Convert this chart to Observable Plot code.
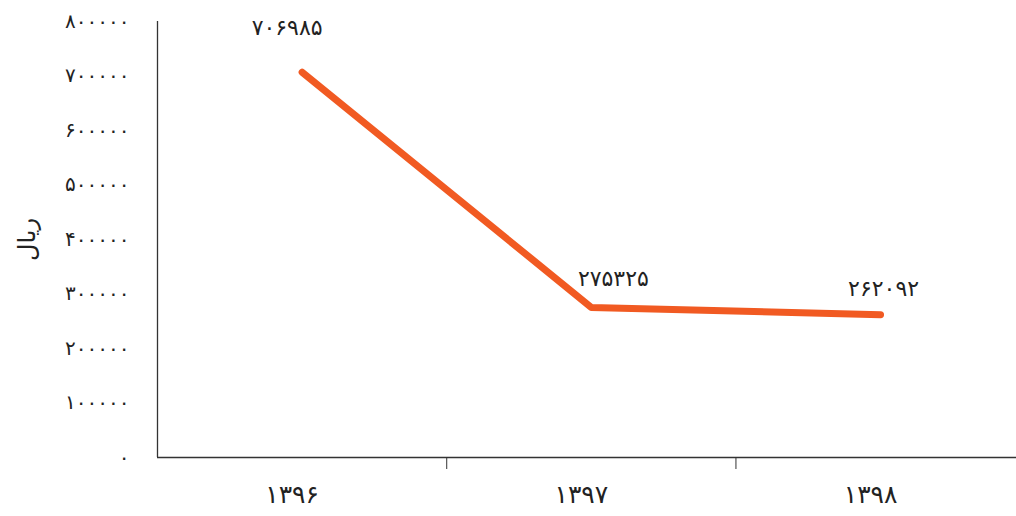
<!DOCTYPE html>
<html>
<head>
<meta charset="utf-8">
<script src="https://cdn.jsdelivr.net/npm/d3@7"></script>
<script src="https://cdn.jsdelivr.net/npm/@observablehq/plot@0.6"></script>
<style>
  html, body { margin: 0; padding: 0; background: #fff; }
  #chart svg { display: block; font-family: "DejaVu Sans", sans-serif; }
</style>
</head>
<body>
<div id="chart"></div>
<script>
const years = [1396, 1397, 1398];
const yearLabels = ["۱۳۹۶", "۱۳۹۷", "۱۳۹۸"];
const values = [706985, 275325, 262092];
const yTicks = [0, 100000, 200000, 300000, 400000, 500000, 600000, 700000, 800000];
const xBoundaries = [1396.5, 1397.5];
const yTitle = "ریال";

const xDomain = [1395.5, 1398.47];
const yDomain = [0, 800000];

const toFa = n => String(n).replace(/\d/g, d => "۰۱۲۳۴۵۶۷۸۹"[+d]);
const data = years.map((year, i) => ({year, value: values[i]}));

const labelMark = (idx, dx, dy) => Plot.text(data, {
  filter: (d, i) => i === idx,
  x: "year", y: "value", text: d => toFa(d.value),
  dx, dy, fontSize: 22, fill: "#222"
});

const chart = Plot.plot({
  width: 1016,
  height: 516,
  marginLeft: 157,
  marginRight: 0,
  marginTop: 21,
  marginBottom: 59,
  x: {domain: xDomain},
  y: {domain: yDomain},
  marks: [
    Plot.ruleY([yDomain[0]], {stroke: "#333", strokeWidth: 1.3}),
    Plot.ruleX([xDomain[0]], {y1: yDomain[0], y2: yDomain[1], stroke: "#333", strokeWidth: 1.3}),
    Plot.axisY({ticks: yTicks, tickFormat: toFa, tickSize: 0, tickPadding: 28, fontSize: 20, label: null, fill: "#222"}),
    Plot.axisY({ticks: [], label: yTitle, labelAnchor: "center", labelArrow: "none", labelOffset: 140, fontSize: 24, fill: "#222"}),
    Plot.axisX({ticks: xBoundaries, tickFormat: () => "", tickSize: 12, stroke: "#333", label: null}),
    Plot.axisX({ticks: years, tickFormat: d => yearLabels[years.indexOf(d)], tickSize: 0, tickPadding: 28, fontSize: 25, dx: -10, label: null, fill: "#222"}),
    Plot.line(data, {x: "year", y: "value", stroke: "#F15A22", strokeWidth: 7, strokeLinecap: "round", strokeLinejoin: "round"}),
    labelMark(0, -15, -44),
    labelMark(1, 22, -28),
    labelMark(2, 3, -26)
  ]
});
document.getElementById("chart").appendChild(chart);
</script>
</body>
</html>
